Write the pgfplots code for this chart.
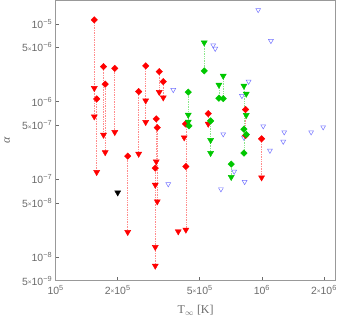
\documentclass[border=0pt]{standalone}
\usepackage{fontspec}
\setmainfont{Liberation Serif}
\newfontfamily\tickfont{Liberation Sans}
\usepackage{pgfplots}
\pgfplotsset{compat=1.18}
\usetikzlibrary{calc}
\definecolor{myred}{rgb}{1,0,0}
\definecolor{mygreen}{rgb}{0,0.78,0}
\definecolor{myblue}{rgb}{0.45,0.45,1}
\definecolor{framegray}{gray}{0.6}
\definecolor{tickgray}{gray}{0.42}
\newcommand{\tx}{{\fontsize{6.5}{6.5}\selectfont\raisebox{0.15ex}{×}}}
\begin{document}
\begin{tikzpicture}
\begin{axis}[
  xmode=log, ymode=log,
  scale only axis, width=280bp, height=280.5bp,
  xmin=1e5, xmax=2.28e6, ymin=5e-9, ymax=2.03e-5,
  axis line style={framegray, line width=0.8pt},
  tick style={tickgray, line width=0.6pt},
  major tick length=3.5bp,
  tick align=inside,
  tick pos=left,
  minor xtick={}, minor ytick={},
  xtick={1e5,2e5,5e5,1e6,2e6},
  xticklabels={10\textsuperscript{5},2\tx10\textsuperscript{5},5\tx10\textsuperscript{5},10\textsuperscript{6},2\tx10\textsuperscript{6}},
  ytick={5e-9,1e-8,5e-8,1e-7,5e-7,1e-6,5e-6,1e-5},
  yticklabels={5\tx10\textsuperscript{−9},10\textsuperscript{−8},5\tx10\textsuperscript{−8},10\textsuperscript{−7},5\tx10\textsuperscript{−7},10\textsuperscript{−6},5\tx10\textsuperscript{−6},10\textsuperscript{−5}},
  ticklabel style={font=\tickfont\fontsize{10.5}{12}\selectfont, text=tickgray},
  xticklabel style={yshift=-1bp},
  xlabel={T$_{\infty}$ [K]},
  ylabel={\textit{α}},
  label style={font=\fontsize{12}{14}\selectfont, text=tickgray},
  xlabel style={at={(axis description cs:0.5,0)}, anchor=center, yshift=-29.5bp},
  ylabel style={at={(axis description cs:0,0.5)}, anchor=center, rotate=0, yshift=48.6bp},
  unbounded coords=jump,
]
% red dotted connectors
\addplot[myred!45, densely dotted, line width=0.7pt] coordinates {
(1.54e5,1.126e-5) (1.54e5,6.43e-7) (1.54e5,nan)
(1.581e5,1.086e-6) (1.581e5,1.241e-7) (1.581e5,nan)
(1.707e5,2.826e-6) (1.707e5,3.74e-7) (1.707e5,nan)
(1.739e5,1.679e-6) (1.739e5,2.23e-7) (1.739e5,nan)
(1.936e5,2.68e-6) (1.936e5,4.05e-7) (1.936e5,nan)
(2.236e5,1.993e-7) (2.236e5,2.10e-8) (2.236e5,nan)
(2.527e5,1.348e-6) (2.527e5,2.13e-7) (2.527e5,nan)
(2.733e5,2.885e-6) (2.733e5,5.45e-7) (2.733e5,nan)
(3.18e5,2.437e-6) (3.18e5,1.325e-6) (3.18e5,nan)
(3.325e5,1.813e-6) (3.325e5,1.129e-6) (3.325e5,nan)
(3.075e5,6.01e-7) (3.075e5,1.698e-7) (3.075e5,nan)
(3.11e5,4.64e-7) (3.11e5,5.20e-8) (3.11e5,nan)
(3.041e5,1.397e-7) (3.041e5,7.75e-9) (3.041e5,nan)
(4.28e5,5.18e-7) (4.28e5,2.25e-8) (4.28e5,nan)
(5.493e5,7.03e-7) (5.493e5,5.18e-7) (5.493e5,nan)
(8.337e5,7.91e-7) (8.337e5,3.67e-7) (8.337e5,nan)
(9.966e5,3.33e-7) (9.966e5,1.058e-7)
};
% green dotted connectors
\addplot[mygreen!45, densely dotted, line width=0.7pt] coordinates {
(5.253e5,5.75e-6) (5.253e5,2.488e-6) (5.253e5,nan)
(4.395e5,1.325e-6) (4.395e5,4.89e-7) (4.395e5,nan)
(5.642e5,5.66e-7) (5.642e5,2.18e-7) (5.642e5,nan)
(6.19e5,1.644e-6) (6.19e5,1.109e-6) (6.19e5,nan)
(6.494e5,2.146e-6) (6.494e5,1.096e-6) (6.494e5,nan)
(7.10e5,1.573e-7) (7.10e5,1.071e-7) (7.10e5,nan)
(8.25e5,1.596e-6) (8.25e5,2.18e-7)
};
% blue open triangles
\addplot[only marks, mark=triangle, mark size=2.8bp, myblue, mark options={rotate=180, line width=0.5pt}] coordinates {
(9.596e5,1.514e-5) (1.106e6,6.05e-6) (5.808e5,5.32e-6) (5.939e5,4.81e-6)
(3.718e5,1.418e-6) (8.622e5,1.813e-6) (8.002e5,1.187e-6) (6.494e5,3.82e-7)
(8.182e5,3.46e-7) (1.015e6,4.84e-7) (1.283e6,4.05e-7) (1.269e6,3.07e-7)
(1.733e6,4.05e-7) (1.982e6,4.70e-7) (1.094e6,2.35e-7) (7.341e5,1.264e-7)
(8.246e5,9.31e-8) (6.33e5,7.50e-8) (3.516e5,8.71e-8)
};
% red triangles
\addplot[only marks, mark=triangle*, mark size=3.5bp, myred, mark options={rotate=180}] coordinates {
(1.54e5,1.491e-6) (1.54e5,6.43e-7) (1.581e5,1.241e-7) (1.707e5,3.74e-7)
(1.739e5,2.23e-7) (1.936e5,4.05e-7) (2.236e5,2.10e-8) (2.527e5,2.13e-7)
(2.733e5,1.033e-6) (2.733e5,5.45e-7) (3.18e5,1.325e-6) (3.325e5,1.129e-6)
(3.075e5,1.698e-7) (3.11e5,5.20e-8) (3.041e5,8.52e-8) (3.041e5,1.349e-8)
(3.041e5,7.75e-9) (4.2e5,3.46e-7) (4.28e5,2.25e-8) (3.931e5,2.14e-8)
(5.493e5,5.18e-7) (9.966e5,1.058e-7)
};
% red diamonds
\addplot[only marks, mark=square*, mark size=2.3bp, myred, mark options={rotate=45}] coordinates {
(1.54e5,1.126e-5) (1.581e5,1.086e-6) (1.707e5,2.826e-6) (1.739e5,1.679e-6)
(1.936e5,2.68e-6) (2.236e5,1.993e-7) (2.527e5,1.348e-6) (2.733e5,2.885e-6)
(3.18e5,2.437e-6) (3.325e5,1.813e-6) (3.075e5,6.01e-7) (3.11e5,4.64e-7)
(3.041e5,1.397e-7) (4.269e5,5.18e-7) (4.28e5,1.465e-7) (5.493e5,7.03e-7)
(8.337e5,7.91e-7) (8.337e5,3.67e-7) (9.966e5,3.33e-7)
};
% green triangles
\addplot[only marks, mark=triangle*, mark size=3.5bp, mygreen, mark options={rotate=180}] coordinates {
(5.253e5,5.75e-6) (4.395e5,6.76e-7) (4.395e5,5.50e-7) (5.642e5,3.20e-7)
(5.642e5,2.18e-7) (6.19e5,1.644e-6) (6.494e5,2.146e-6) (7.10e5,1.071e-7)
(8.182e5,1.596e-6) (8.4e5,1.26e-6) (8.4e5,6.71e-7)
};
% green diamonds
\addplot[only marks, mark=square*, mark size=2.3bp, mygreen, mark options={rotate=45}] coordinates {
(5.253e5,2.488e-6) (4.395e5,1.325e-6) (4.43e5,4.89e-7) (5.642e5,5.66e-7)
(6.19e5,1.109e-6) (6.494e5,1.096e-6) (7.10e5,1.573e-7) (8.182e5,4.43e-7)
(8.4e5,3.78e-7) (8.182e5,2.18e-7)
};
% black triangle
\addplot[only marks, mark=triangle*, mark size=3.5bp, black, mark options={rotate=180}] coordinates {
(2.0e5,6.79e-8)
};
\end{axis}
\pgfresetboundingbox
\path[use as bounding box] ($(current axis.south west)+(-55.6bp,-38.3bp)$) rectangle ($(current axis.north east)+(4.3bp,0bp)$);
\end{tikzpicture}
\end{document}
